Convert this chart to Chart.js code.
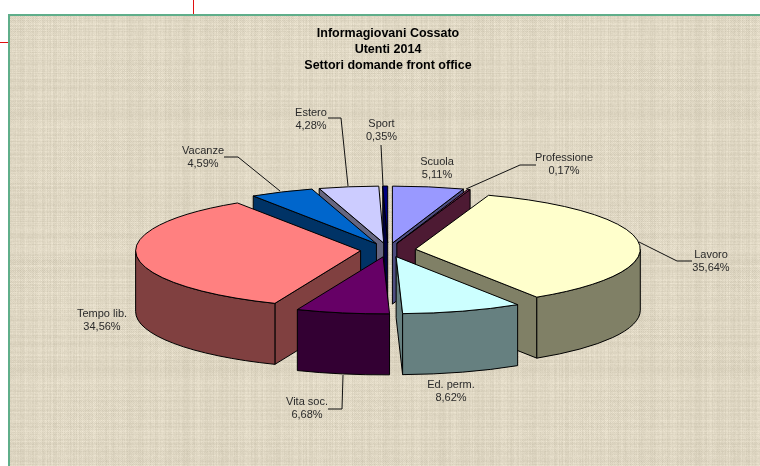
<!DOCTYPE html>
<html>
<head>
<meta charset="utf-8">
<style>html,body{margin:0;padding:0;background:#fff}canvas{display:block}#w{width:760px;height:466px;position:relative}</style>
<script src="https://cdn.jsdelivr.net/npm/chart.js@4"></script>
</head>
<body>
<div id="w"><canvas id="c" width="760" height="466"></canvas></div>
<script>
const categories = ['Scuola','Professione','Lavoro','Ed. perm.','Vita soc.','Tempo lib.','Vacanze','Estero','Sport'];
const values = [5.11,0.17,35.64,8.62,6.68,34.56,4.59,4.28,0.35];
const percentLabels = ['5,11%','0,17%','35,64%','8,62%','6,68%','34,56%','4,59%','4,28%','0,35%'];
const colors = ['#9999FF','#993366','#FFFFCC','#CCFFFF','#660066','#FF8080','#0066CC','#CCCCFF','#000080'];
const titleLines = ['Informagiovani Cossato','Utenti 2014','Settori domande front office'];

// 3D projection of the pie
const RX = 225, RY = 57, DEPTH = 61, EXPLODE = 27.5, CY = 250;
const paintOrder = [8,7,6,0,1,5,2,4,3];

// Label placement: [centre x, first-line y], leader polyline
const labelPos = [[437,162],[564,158],[711,255],[451,385],[307,402],[102,314],[203,151],[311,113],[381.5,124]];
const leaders = [null,[[536,165],[520,165],[466,189]],[[692,261],[677,261],[639,242]],null,
  [[328,409],[342,409],[343,375]],null,[[224,157],[238,157],[280,191]],[[328,118],[341,118],[348,186]],[[381,145],[383,186]]];

function halfColor(hex){
  const n = parseInt(hex.slice(1),16);
  const f = v => Math.round(v/2);
  return `rgb(${f(n>>16&255)},${f(n>>8&255)},${f(n&255)})`;
}
function burlap(){
  const S = 256, t = document.createElement('canvas');
  t.width = t.height = S;
  const g = t.getContext('2d'), im = g.createImageData(S,S);
  const h = i => { const s = Math.sin(i*12.9898+4.1)*43758.5453; return s-Math.floor(s); };
  const cols = [], rows = [];
  for (let i=0;i<S;i++){ cols.push(h(i)-.5); rows.push(h(i+500)-.5); }
  for (let y=0;y<S;y++) for (let x=0;x<S;x++){
    const patch = Math.sin(x/37+Math.sin(y/29)*1.6)*Math.sin(y/23+1.1)*.5;
    const weave = ((x+y)%2 ? 1 : -1)*(.35+patch);
    const v = cols[x]*12 + rows[y]*12 + weave*6 + (h(x*7+y*331)-.5)*8;
    const o = (y*S+x)*4;
    im.data[o]=223+v; im.data[o+1]=215+v; im.data[o+2]=195+v*1.05; im.data[o+3]=255;
  }
  g.putImageData(im,0,0);
  return t;
}
const tile = burlap();

const backdrop = {
  id:'backdrop',
  beforeDraw(chart){
    const c = chart.ctx, W = chart.width, H = chart.height;
    c.save();
    c.fillStyle = '#fff'; c.fillRect(0,0,W,H);
    c.fillStyle = c.createPattern(tile,'repeat'); c.fillRect(9,15,W-9,H-15);
    c.fillStyle = '#5FAE8A'; c.fillRect(8,14,W-8,2); c.fillRect(8,14,2,H-14);
    c.fillStyle = '#E01010'; c.fillRect(193,0,1,14); c.fillRect(0,42,8,1);
    c.restore();
  }
};
const pie3d = {
  id:'pie3d',
  beforeDatasetsDraw(chart){
    const c = chart.ctx, arcs = chart.getDatasetMeta(0).data;
    c.save();
    c.lineWidth = 1; c.strokeStyle = '#000'; c.lineJoin = 'round';
    paintOrder.forEach(i=>{
      const a = arcs[i], col = a.options.backgroundColor, dark = halfColor(col);
      const s = a.startAngle, e = a.endAngle, mid = (s+e)/2;
      const ox = a.x + Math.cos(mid)*EXPLODE, oy = CY + Math.sin(mid)*EXPLODE*RY/RX;
      const pt = t => [ox+RX*Math.cos(t), oy+RY*Math.sin(t)];
      const wall = t => {
        const p = pt(t);
        c.beginPath(); c.moveTo(ox,oy); c.lineTo(p[0],p[1]); c.lineTo(p[0],p[1]+DEPTH); c.lineTo(ox,oy+DEPTH); c.closePath();
        c.fillStyle = dark; c.fill(); c.stroke();
      };
      if (Math.cos(s) < 0) wall(s);
      if (Math.cos(e) > 0) wall(e);
      const f0 = Math.max(s,0), f1 = Math.min(e,Math.PI);
      if (f1>f0){
        const p1 = pt(f1);
        c.beginPath(); c.ellipse(ox,oy,RX,RY,0,f0,f1); c.lineTo(p1[0],p1[1]+DEPTH);
        c.ellipse(ox,oy+DEPTH,RX,RY,0,f1,f0,true); c.closePath();
        c.fillStyle = dark; c.fill(); c.stroke();
      }
      c.beginPath(); c.moveTo(ox,oy); c.ellipse(ox,oy,RX,RY,0,s,e); c.closePath();
      c.fillStyle = col; c.fill(); c.stroke();
    });
    c.restore();
    return false;
  },
  afterDraw(chart){
    const c = chart.ctx;
    c.save();
    c.strokeStyle = '#111'; c.lineWidth = 1;
    leaders.forEach(l=>{
      if(!l) return;
      c.beginPath(); l.forEach((p,k)=> k? c.lineTo(p[0],p[1]) : c.moveTo(p[0],p[1])); c.stroke();
    });
    c.fillStyle = '#2a2a2a'; c.font = '11px "Liberation Sans"'; c.textAlign = 'center'; c.textBaseline = 'middle';
    categories.forEach((n,i)=>{
      c.fillText(n,labelPos[i][0],labelPos[i][1]);
      c.fillText(percentLabels[i],labelPos[i][0],labelPos[i][1]+13);
    });
    c.restore();
  }
};
new Chart(document.getElementById('c'),{
  type:'pie',
  data:{labels:categories,datasets:[{data:values,backgroundColor:colors,borderWidth:0}]},
  options:{
    responsive:false,animation:false,
    layout:{padding:{left:16,right:0,top:0,bottom:0}},
    plugins:{
      legend:{display:false},tooltip:{enabled:false},
      title:{display:true,text:titleLines,color:'#000',
        font:{family:'"Liberation Sans"',size:12.5,weight:'bold',lineHeight:16/12.5},
        padding:{top:25.5,bottom:0}}
    }
  },
  plugins:[backdrop,pie3d]
});
</script>
</body>
</html>
